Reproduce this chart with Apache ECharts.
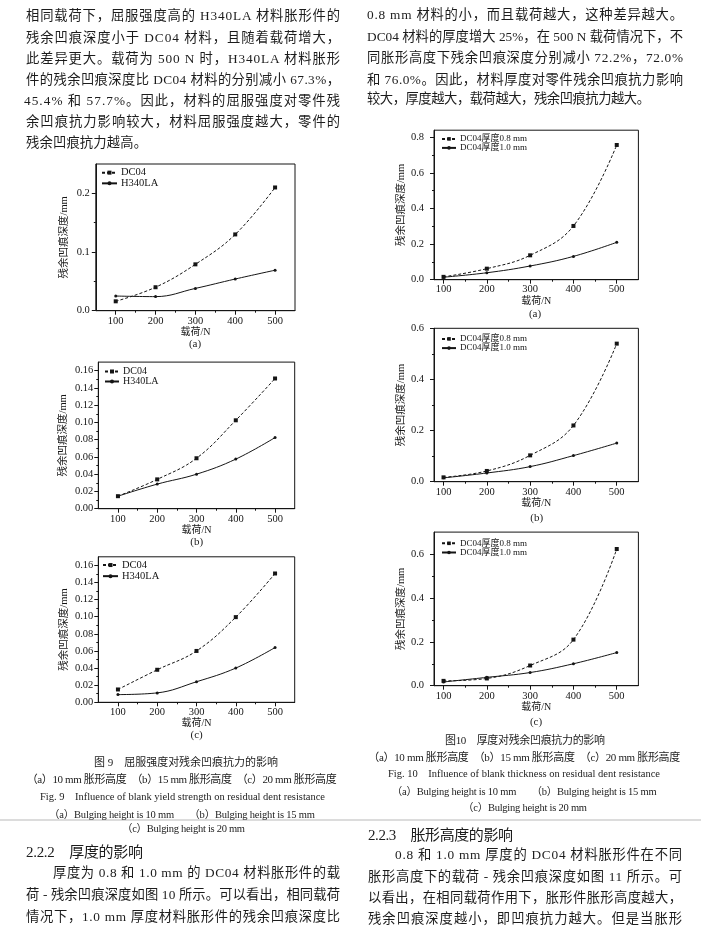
<!DOCTYPE html>
<html><head><meta charset="utf-8">
<script src="https://cdn.jsdelivr.net/npm/echarts@6/dist/echarts.min.js"></script>
<style>
html,body{margin:0;padding:0;background:#fff;}
#page{position:relative;width:701px;height:937px;overflow:hidden;background:#fff;}
#chart{position:absolute;left:0;top:0;width:701px;height:937px;}
#txt{position:absolute;left:0;top:0;width:701px;height:937px;pointer-events:none;}
.t{position:absolute;white-space:pre;color:#1c1c1c;font-family:"Liberation Serif","Noto Sans CJK SC",serif;}
.rule{position:absolute;left:0;width:701px;height:2px;background:#dcdcdc;}
</style></head><body>
<div id="page"><div id="chart"></div><div id="txt"></div></div>
<script>
// ---------------- data ----------------
const loads = [100, 200, 300, 400, 500];
// Fig. 9: influence of yield strength
const fig9a_DC04   = [0.016, 0.040, 0.079, 0.130, 0.210];
const fig9a_H340LA = [0.025, 0.024, 0.038, 0.054, 0.069];
const fig9b_DC04   = [0.0145, 0.034, 0.0585, 0.1025, 0.151];
const fig9b_H340LA = [0.0145, 0.0285, 0.040, 0.0575, 0.0825];
const fig9c_DC04   = [0.015, 0.038, 0.060, 0.0995, 0.1505];
const fig9c_H340LA = [0.009, 0.011, 0.024, 0.040, 0.064];
// Fig. 10: influence of thickness
const fig10a_t08 = [0.016, 0.062, 0.137, 0.302, 0.757];
const fig10a_t10 = [0.014, 0.039, 0.077, 0.131, 0.210];
const fig10b_t08 = [0.017, 0.042, 0.103, 0.220, 0.540];
const fig10b_t10 = [0.015, 0.034, 0.059, 0.102, 0.151];
const fig10c_t08 = [0.022, 0.033, 0.092, 0.210, 0.623];
const fig10c_t10 = [0.017, 0.038, 0.060, 0.100, 0.151];

const names9  = ['DC04', 'H340LA'];
const names10 = ['DC04厚度0.8 mm', 'DC04厚度1.0 mm'];

// tick values
const xTicks = [100, 200, 300, 400, 500];
const xMinor = [150, 250, 350, 450];
const y9aTicks = [0, 0.1, 0.2];
const y9aMinor = [0.05, 0.15];
const y9bcTicks = [0, 0.02, 0.04, 0.06, 0.08, 0.10, 0.12, 0.14, 0.16];
const y9bcMinor = [0.01, 0.03, 0.05, 0.07, 0.09, 0.11, 0.13, 0.15];
const y10aTicks = [0, 0.2, 0.4, 0.6, 0.8];
const y10aMinor = [0.1, 0.3, 0.5, 0.7];
const y10bcTicks = [0, 0.2, 0.4, 0.6];
const y10bcMinor = [0.1, 0.3, 0.5];

const xName = '载荷/N';
const yName = '残余凹痕深度/mm';

// ---------------- layout ----------------
const FF = '"Liberation Serif","Noto Sans CJK SC",serif';
const INK = '#151515';
const panels = [
  {grid:{left:95.8, top:164, width:199.2, height:146.7}, x:[50,550], y:[0,0.25], yT:y9aTicks, yM:y9aMinor, dec:1,
   names:names9, data:[fig9a_DC04, fig9a_H340LA], leg:{left:101, top:167.4, iw:15, ih:5, gap:0.2, fs:10.5}, yGap:26, yLm:6, xLm:5, xGap:16},
  {grid:{left:98.3, top:362.1, width:196.4, height:146.6}, x:[50,550], y:[0,0.17], yT:y9bcTicks, yM:y9bcMinor, dec:2,
   names:names9, data:[fig9b_DC04, fig9b_H340LA], leg:{left:104, top:366.5, iw:14, ih:5, gap:0, fs:10}, yGap:30, yLm:5, xLm:5, xGap:16},
  {grid:{left:98.3, top:556.8, width:196.4, height:145.5}, x:[50,550], y:[0,0.17], yT:y9bcTicks, yM:y9bcMinor, dec:2,
   names:names9, data:[fig9c_DC04, fig9c_H340LA], leg:{left:102, top:559.8, iw:15, ih:5, gap:0.6, fs:10.5}, yGap:29, yLm:5, xLm:5, xGap:15.5},
  {grid:{left:434, top:130.2, width:204.4, height:149.5}, x:[78,550], y:[0,0.84], yT:y10aTicks, yM:y10aMinor, dec:1,
   names:names10, data:[fig10a_t08, fig10a_t10], leg:{left:441, top:134.4, iw:14, ih:4.5, gap:0, fs:9}, yGap:27, yLm:10, xLm:4.5, xGap:17},
  {grid:{left:434, top:328.3, width:204.4, height:153.4}, x:[78,550], y:[0,0.6], yT:y10bcTicks, yM:y10bcMinor, dec:1,
   names:names10, data:[fig10b_t08, fig10b_t10], leg:{left:441, top:334.4, iw:14, ih:4.5, gap:0.2, fs:9}, yGap:27, yLm:10, xLm:5, xGap:16},
  {grid:{left:434, top:532.1, width:204.4, height:153.6}, x:[78,550], y:[0,0.7], yT:y10bcTicks, yM:y10bcMinor, dec:1,
   names:names10, data:[fig10c_t08, fig10c_t10], leg:{left:441, top:538.8, iw:14, ih:4.5, gap:0.2, fs:9}, yGap:27, yLm:10, xLm:5, xGap:17}
];

const grid = [], xAxis = [], yAxis = [], series = [], legend = [];
panels.forEach((p, i) => {
  grid.push(Object.assign({show:true, borderColor:INK, borderWidth:1, backgroundColor:'transparent'}, p.grid));
  xAxis.push({type:'value', gridIndex:i, position:'bottom', min:p.x[0], max:p.x[1],
    axisLine:{show:true, onZero:false, lineStyle:{color:INK, width:1}},
    axisTick:{show:true, inside:false, length:4, lineStyle:{color:INK}, customValues:xTicks},
    axisLabel:{customValues:xTicks, fontSize:10.5, fontFamily:FF, color:INK, margin:p.xLm},
    splitLine:{show:false},
    name:xName, nameLocation:'middle', nameGap:p.xGap, nameTextStyle:{fontSize:10, fontFamily:FF, color:INK}});
  xAxis.push({type:'value', gridIndex:i, position:'bottom', min:p.x[0], max:p.x[1],
    axisLine:{show:false, onZero:false},
    axisTick:{show:true, inside:false, length:2, lineStyle:{color:INK}, customValues:xMinor},
    axisLabel:{show:false}, splitLine:{show:false}});
  yAxis.push({type:'value', gridIndex:i, position:'left', min:p.y[0], max:p.y[1],
    axisLine:{show:true, onZero:false, lineStyle:{color:INK, width:1}},
    axisTick:{show:true, inside:false, length:4, lineStyle:{color:INK}, customValues:p.yT},
    axisLabel:{customValues:p.yT, fontSize:10.5, fontFamily:FF, color:INK, margin:p.yLm,
      formatter:(v)=>Number(v).toFixed(p.dec)},
    splitLine:{show:false},
    name:yName, nameLocation:'middle', nameRotate:90, nameGap:p.yGap, nameTextStyle:{fontSize:10.5, fontFamily:FF, color:INK}});
  yAxis.push({type:'value', gridIndex:i, position:'left', min:p.y[0], max:p.y[1],
    axisLine:{show:false, onZero:false},
    axisTick:{show:true, inside:false, length:2, lineStyle:{color:INK}, customValues:p.yM},
    axisLabel:{show:false}, splitLine:{show:false}});
  series.push({type:'line', name:p.names[0], xAxisIndex:2*i, yAxisIndex:2*i,
    data:loads.map((x,k)=>[x, p.data[0][k]]), smooth:0.4,
    symbol:'rect', symbolSize:4, lineStyle:{color:INK, width:1, type:[3,2]}, itemStyle:{color:INK}, z:3});
  series.push({type:'line', name:p.names[1], xAxisIndex:2*i, yAxisIndex:2*i,
    data:loads.map((x,k)=>[x, p.data[1][k]]), smooth:0.4,
    symbol:'circle', symbolSize:3, lineStyle:{color:INK, width:1, type:'solid'}, itemStyle:{color:INK}, z:3});
  legend.push({data:p.names, orient:'vertical', left:p.leg.left, top:p.leg.top, itemWidth:p.leg.iw, itemHeight:p.leg.ih,
    itemGap:p.leg.gap, padding:0, selectedMode:false,
    textStyle:{fontSize:p.leg.fs, fontFamily:FF, color:INK, padding:[0,0,0,-1]}});
});

const chart = echarts.init(document.getElementById('chart'), null, {renderer:'canvas'});
chart.setOption({animation:false, backgroundColor:'#fff', grid, xAxis, yAxis, series, legend});

// ---------------- page text ----------------
// kind: J = justified between x and x+w, L = left, C = centered at x
const lines = [
  ['J','相同载荷下，屈服强度高的 H340LA 材料胀形件的',26,16,314,13.3],
  ['J','残余凹痕深度小于 DC04 材料，且随着载荷增大，',26,37.5,314,13.3],
  ['J','此差异更大。载荷为 500 N 时，H340LA 材料胀形',26,59,314,13.3],
  ['J','件的残余凹痕深度比 DC04 材料的分别减小 67.3%，',26,80,314,13.3],
  ['J','45.4% 和 57.7%。因此，材料的屈服强度对零件残',24,101,316,13.3],
  ['J','余凹痕抗力影响较大，材料屈服强度越大，零件的',26,122,314,13.3],
  ['J','残余凹痕抗力越高。',26,143,121,13.3],

  ['J','0.8 mm 材料的小，而且载荷越大，这种差异越大。',367,15,316,13.3],
  ['J','DC04 材料的厚度增大 25%，在 500 N 载荷情况下，不',367,36.7,316,13.3],
  ['J','同胀形高度下残余凹痕深度分别减小 72.2%，72.0%',367,57.7,316,13.3],
  ['J','和 76.0%。因此，材料厚度对零件残余凹痕抗力影响',367,79.3,316,13.3],
  ['J','较大，厚度越大，载荷越大，残余凹痕抗力越大。',367,99,283,13.3],

  ['C','(a)',195,343.3,0,11],
  ['C','(b)',196.7,541,0,11],
  ['C','(c)',196.7,734,0,11],
  ['C','(a)',535,312.7,0,11],
  ['C','(b)',536.7,516.7,0,11],
  ['C','(c)',536,721,0,11],

  ['J','图 9　屈服强度对残余凹痕抗力的影响',94,761.7,184,11],
  ['J','（a）10 mm 胀形高度　（b）15 mm 胀形高度　（c）20 mm 胀形高度',26.7,779.3,310,11],
  ['J','Fig. 9　Influence of blank yield strength on residual dent resistance',40,797,285,10.5],
  ['J','（a）Bulging height is 10 mm　　（b）Bulging height is 15 mm',49,815,266,10.5],
  ['J','（c）Bulging height is 20 mm',122,829,123,10.5],
  ['J','2.2.2　厚度的影响',26,851.7,117,15],
  ['J','厚度为 0.8 和 1.0 mm 的 DC04 材料胀形件的载',53,873,287,13.3],
  ['J','荷 - 残余凹痕深度如图 10 所示。可以看出，相同载荷',26,895,314,13.3],
  ['J','情况下，1.0 mm 厚度材料胀形件的残余凹痕深度比',26,916.7,314,13.3],

  ['J','图10　厚度对残余凹痕抗力的影响',445,740,160,11],
  ['J','（a）10 mm 胀形高度　（b）15 mm 胀形高度　（c）20 mm 胀形高度',368.3,756.7,312,11],
  ['J','Fig. 10　Influence of blank thickness on residual dent resistance',388,774.3,272,10.5],
  ['J','（a）Bulging height is 10 mm　　（b）Bulging height is 15 mm',391.7,791.7,265,10.5],
  ['J','（c）Bulging height is 20 mm',463,808,124,10.5],
  ['J','2.2.3　胀形高度的影响',368,834.3,145,15],
  ['J','0.8 和 1.0 mm 厚度的 DC04 材料胀形件在不同',395,855,287,13.3],
  ['J','胀形高度下的载荷 - 残余凹痕深度如图 11 所示。可',368,876.7,314,13.3],
  ['J','以看出，在相同载荷作用下，胀形件胀形高度越大，',368,898,314,13.3],
  ['J','残余凹痕深度越小，即凹痕抗力越大。但是当胀形',368,919,314,13.3]
];
const host = document.getElementById('txt');
const rule = document.createElement('div');
rule.className = 'rule'; rule.style.top = '819px';
host.appendChild(rule);
lines.forEach(([kind, s, x, y, w, fs]) => {
  const el = document.createElement('span');
  el.className = 't';
  el.textContent = s;
  el.style.fontSize = fs + 'px';
  el.style.lineHeight = Math.round(fs * 1.3) + 'px';
  el.style.top = (y - fs * 0.65) + 'px';
  host.appendChild(el);
  const nat = el.getBoundingClientRect().width;
  if (kind === 'J') {
    const n = Array.from(s).length;
    const ls = (w - nat) / (n - 1);
    el.style.letterSpacing = ls + 'px';
    el.style.left = x + 'px';
  } else if (kind === 'C') {
    el.style.left = (x - nat / 2) + 'px';
  } else {
    el.style.left = x + 'px';
  }
});
</script>
</body></html>
